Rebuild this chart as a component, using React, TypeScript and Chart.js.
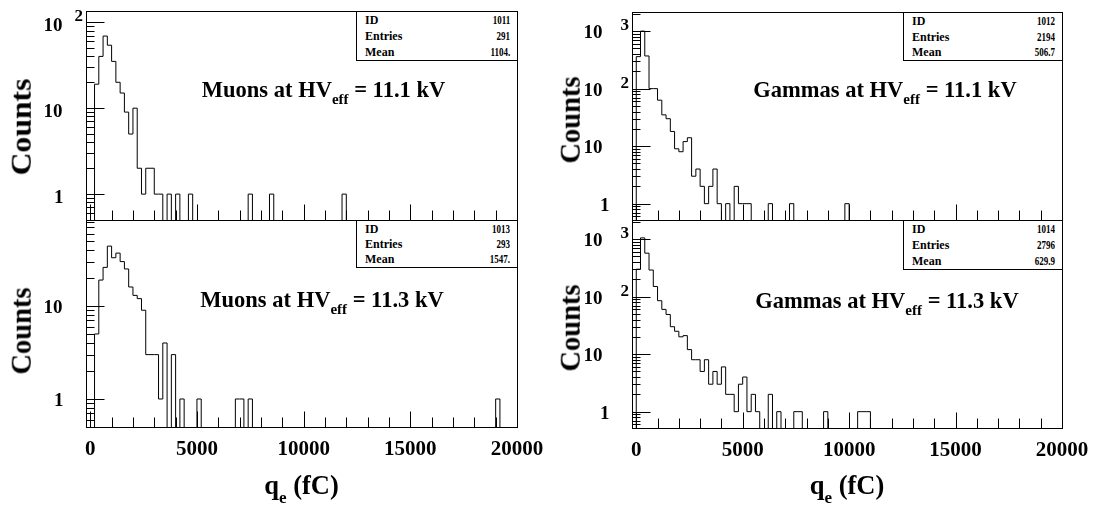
import React, { useEffect, useRef } from 'react';
import { Chart, registerables } from 'chart.js';

Chart.register(...registerables);

const SERIF = '"Liberation Serif", "Times New Roman", Times, serif';

// ---------------- data ----------------
const BIN_WIDTH_FC = 200;
const Q_RANGE_FC = [-200, 20000];
const X_TICK_LABELS = [0, 5000, 10000, 15000, 20000];
const X_MINOR_STEP_FC = 1000;

// counts per 200 fC bin, first entry = bin [0, 200)
const MUONS_111_COUNTS = [0, 19, 40, 69, 54, 35, 20, 15, 9, 5, 10, 2, 1, 2, 2, 1, 1, 0, 1, 0, 1, 0, 0, 1];
const MUONS_111_SINGLE_FC = [7400, 8400, 11800];
const MUONS_113_COUNTS = [0, 5, 19, 26, 44, 33, 37, 30, 25, 16, 13, 12, 9, 3, 3, 3, 1, 4, 0, 3, 0, 1, 0, 0, 0, 1];
const MUONS_113_SINGLE_FC = [6800, 7000, 7400, 19000];
const GAMMAS_111_COUNTS = [360, 1000, 370, 100, 100, 63, 35, 30, 18, 9, 8, 12, 14, 3, 4, 2, 1, 2, 4, 1, 0, 1, 0, 2, 1, 1, 1];
const GAMMAS_111_SINGLE_FC = [6200, 7200, 9800];
const GAMMAS_113_COUNTS = [300, 1050, 570, 290, 150, 85, 60, 49, 30, 25, 20, 21, 12, 8, 8, 5, 8, 3, 5, 3, 6, 2, 2, 1, 3, 4, 1, 2, 1, 0, 0, 2, 0, 1];
const GAMMAS_113_SINGLE_FC = [7400, 7600, 8800, 10400, 10600, 10800];

// panel order: top-left, bottom-left, top-right, bottom-right
const PANEL_COUNTS = [MUONS_111_COUNTS, MUONS_113_COUNTS, GAMMAS_111_COUNTS, GAMMAS_113_COUNTS];
const PANEL_SINGLES = [MUONS_111_SINGLE_FC, MUONS_113_SINGLE_FC, GAMMAS_111_SINGLE_FC, GAMMAS_113_SINGLE_FC];
const PARTICLES = ['Muons', 'Muons', 'Gammas', 'Gammas'];
const HV_EFF_KV = ['11.1', '11.3', '11.1', '11.3'];
const STAT_IDS = ['1011', '1013', '1012', '1014'];
const STAT_ENTRIES = ['291', '293', '2194', '2796'];
const STAT_MEANS = ['1104.', '1547.', '506.7', '629.9'];
const Y_MIN = [0.5, 0.5, 0.52, 0.52];
const Y_MAX = [135, 84, 2150, 2150];
const Y_LABEL_EXPONENTS = [[0, 1, 2], [0, 1], [0, 1, 2, 3], [0, 1, 2, 3]];
const Y_TITLE = 'Counts';
const X_TITLE_MAIN = 'q';
const X_TITLE_SUB = 'e';
const X_TITLE_UNIT = '(fC)';

// ---------------- layout / style ----------------
const GEOM = [
  { canvas: [0, 0, 560, 226], frame: [86, 11, 517, 220], xLabels: false, labelDy: 2.4, tenGap: 24, oneGap: 23, expGap: 12, expRaise: 10, title: [323.5, 90], counts: [21.7, 126.7, 1.11], box: [356, 11, 517, 60] },
  { canvas: [0, 214, 560, 292], frame: [86, 220, 517, 427], xLabels: true, labelDy: 0.7, tenGap: 24, oneGap: 23, expGap: 12, expRaise: 10, title: [322, 300], counts: [21.7, 330.5, 1], box: [356, 220, 517, 267] },
  { canvas: [560, 0, 539, 226], frame: [632, 12, 1062, 220], xLabels: false, labelDy: 0.7, tenGap: 30, oneGap: 23, expGap: 12, expRaise: 8, title: [885, 90], counts: [571, 120, 1], box: [903, 12, 1062, 60] },
  { canvas: [560, 214, 539, 292], frame: [632, 220, 1062, 428], xLabels: true, labelDy: 0.8, tenGap: 30, oneGap: 23, expGap: 12, expRaise: 8, title: [887, 301], counts: [571, 328, 1], box: [903, 220, 1062, 269] },
];
const X_TITLE_POS = [[301.5, 485], [847, 485]];

const FLOOR = 1e-4;

function buildSteps(dense: number[], singles: number[]) {
  const nBins = Math.round(Q_RANGE_FC[1] / BIN_WIDTH_FC);
  const counts = new Array(nBins).fill(0);
  dense.forEach((c, i) => { counts[i] = c; });
  singles.forEach((q) => { counts[Math.round(q / BIN_WIDTH_FC)] += 1; });
  const pts: { x: number; y: number }[] = [{ x: Q_RANGE_FC[0], y: FLOOR }];
  for (let i = 0; i < nBins; i++) pts.push({ x: i * BIN_WIDTH_FC, y: counts[i] > 0 ? counts[i] : FLOOR });
  pts.push({ x: nBins * BIN_WIDTH_FC, y: FLOOR });
  return pts;
}

const rootFrame = {
  id: 'rootFrame',
  afterDraw(chart: any, _args: any, o: any) {
    const { ctx, chartArea: a } = chart;
    const xs = chart.scales.x;
    const ys = chart.scales.y;
    const L = Math.round(a.left) + 0.5;
    const R = Math.round(a.right) + 0.5;
    const T = Math.round(a.top) + 0.5;
    const B = Math.round(a.bottom) + 0.5;
    ctx.save();
    ctx.strokeStyle = '#000';
    ctx.lineWidth = 1;
    ctx.beginPath();
    for (let v = 0; v <= Q_RANGE_FC[1]; v += X_MINOR_STEP_FC) {
      const x = Math.round(xs.getPixelForValue(v)) + 0.5;
      const len = X_TICK_LABELS.includes(v) ? 16 : 10;
      ctx.moveTo(x, B);
      ctx.lineTo(x, B - len);
    }
    const lo = Math.floor(Math.log10(ys.min));
    const hi = Math.ceil(Math.log10(ys.max));
    for (let e = lo; e <= hi; e++) {
      for (let m = 1; m <= 9; m++) {
        const v = m * Math.pow(10, e);
        if (v < ys.min * 0.999 || v > ys.max) continue;
        const y = Math.round(ys.getPixelForValue(v)) + 0.5;
        ctx.moveTo(L, y);
        ctx.lineTo(L + (m === 1 ? 18 : 8), y);
      }
    }
    ctx.stroke();
    ctx.strokeRect(L, T, R - L, B - T);

    ctx.fillStyle = '#000';
    ctx.textBaseline = 'alphabetic';
    for (const e of o.exps) {
      const yb = ys.getPixelForValue(Math.pow(10, e)) + o.labelDy + 6.4;
      ctx.font = `bold 19px ${SERIF}`;
      ctx.textAlign = 'right';
      if (e === 0) {
        ctx.fillText('1', L - o.oneGap, yb);
      } else {
        ctx.fillText('10', L - o.tenGap, yb);
        if (e > 1) {
          ctx.font = `bold 17px ${SERIF}`;
          ctx.textAlign = 'left';
          ctx.fillText(String(e), L - o.expGap, yb - o.expRaise);
        }
      }
    }
    ctx.restore();
  },
};

function Panel({ idx }: { idx: number }) {
  const ref = useRef<HTMLCanvasElement>(null);
  const g = GEOM[idx];
  const [cl, ct, cw, ch] = g.canvas;
  useEffect(() => {
    const canvas = ref.current;
    if (!canvas) return;
    const [fl, ft, fr, fb] = g.frame;
    const below = ct + ch - fb;
    const xHeight = g.xLabels ? below : 0;
    const resetPad = (s: any) => {
      s.paddingLeft = 0; s.paddingRight = 0; s.paddingTop = 0; s.paddingBottom = 0;
    };
    const chart = new Chart(canvas, {
      type: 'line',
      data: {
        datasets: [{
          data: buildSteps(PANEL_COUNTS[idx], PANEL_SINGLES[idx]),
          stepped: 'before',
          borderColor: '#000',
          borderWidth: 1,
          pointRadius: 0,
          pointHoverRadius: 0,
          pointHitRadius: 0,
          fill: false,
          tension: 0,
        }],
      },
      options: {
        animation: false,
        responsive: false,
        maintainAspectRatio: false,
        events: [],
        layout: { padding: { left: fl - cl, top: ft - ct, right: cl + cw - fr, bottom: below - xHeight } },
        plugins: {
          legend: { display: false },
          tooltip: { enabled: false },
          title: { display: false },
          rootFrame: { exps: Y_LABEL_EXPONENTS[idx], labelDy: g.labelDy, tenGap: g.tenGap, oneGap: g.oneGap, expGap: g.expGap, expRaise: g.expRaise },
        } as any,
        scales: {
          x: {
            type: 'linear',
            min: Q_RANGE_FC[0],
            max: Q_RANGE_FC[1],
            grid: { display: false, drawTicks: false },
            border: { display: false },
            ticks: {
              display: g.xLabels,
              autoSkip: false,
              maxRotation: 0,
              minRotation: 0,
              padding: 10,
              color: '#000',
              font: { family: SERIF, size: 21, weight: 'bold' },
              callback: (v: any) => String(v),
            },
            afterBuildTicks: (s: any) => { s.ticks = X_TICK_LABELS.map((v) => ({ value: v })); },
            afterFit: (s: any) => { s.height = xHeight; resetPad(s); },
          },
          y: {
            type: 'logarithmic',
            min: Y_MIN[idx],
            max: Y_MAX[idx],
            grid: { display: false, drawTicks: false },
            border: { display: false },
            ticks: { display: false },
            afterFit: (s: any) => { s.width = 0; resetPad(s); },
          },
        },
      } as any,
      plugins: [rootFrame as any],
    });
    return () => chart.destroy();
  }, [idx]);

  const [tx, ty] = g.title;
  const [cx, cy, csx] = g.counts;
  const [bl, bt, br, bb] = g.box;
  const rows: [string, string][] = [['ID', STAT_IDS[idx]], ['Entries', STAT_ENTRIES[idx]], ['Mean', STAT_MEANS[idx]]];

  return (
    <>
      <canvas
        ref={ref}
        width={cw}
        height={ch}
        style={{ position: 'absolute', left: cl, top: ct, width: cw, height: ch }}
      />
      <div
        style={{
          position: 'absolute', left: tx, top: ty, transform: 'translate(-50%, -50%)',
          font: `bold 22.5px/1 ${SERIF}`, whiteSpace: 'nowrap', color: '#000',
        }}
      >
        {PARTICLES[idx]} at HV<span style={{ fontSize: 15, position: 'relative', top: 7 }}>eff</span> = {HV_EFF_KV[idx]} kV
      </div>
      <div
        style={{
          position: 'absolute', left: cx, top: cy,
          transform: `translate(-50%, -50%) rotate(-90deg) scaleX(${csx})`,
          font: `bold 28.5px/1 ${SERIF}`, whiteSpace: 'nowrap', color: '#000',
        }}
      >
        {Y_TITLE}
      </div>
      <div
        style={{
          position: 'absolute', left: bl, top: bt, width: br - bl + 1, height: bb - bt + 1,
          boxSizing: 'border-box', border: '1px solid #000', background: '#fff',
          display: 'flex', flexDirection: 'column', font: `bold 12px/1 ${SERIF}`, color: '#000',
        }}
      >
        {rows.map(([k, v]) => (
          <div key={k} style={{ flex: 1, display: 'flex', alignItems: 'center', justifyContent: 'space-between', padding: '0 7px 0 8px' }}>
            <span>{k}</span>
            <span style={{ display: 'inline-block', transform: 'scaleX(0.75)', transformOrigin: 'right center' }}>{v}</span>
          </div>
        ))}
      </div>
    </>
  );
}

export default function App() {
  return (
    <div style={{ position: 'absolute', left: 0, top: 0, width: 1099, height: 506, background: '#fff', overflow: 'hidden' }}>
      {[0, 1, 2, 3].map((i) => <Panel key={i} idx={i} />)}
      {X_TITLE_POS.map(([x, y], i) => (
        <div
          key={i}
          style={{
            position: 'absolute', left: x, top: y, transform: 'translate(-50%, -50%)',
            font: `bold 26.5px/1 ${SERIF}`, whiteSpace: 'nowrap', color: '#000',
          }}
        >
          {X_TITLE_MAIN}<span style={{ fontSize: 17, position: 'relative', top: 9 }}>{X_TITLE_SUB}</span> {X_TITLE_UNIT}
        </div>
      ))}
    </div>
  );
}
